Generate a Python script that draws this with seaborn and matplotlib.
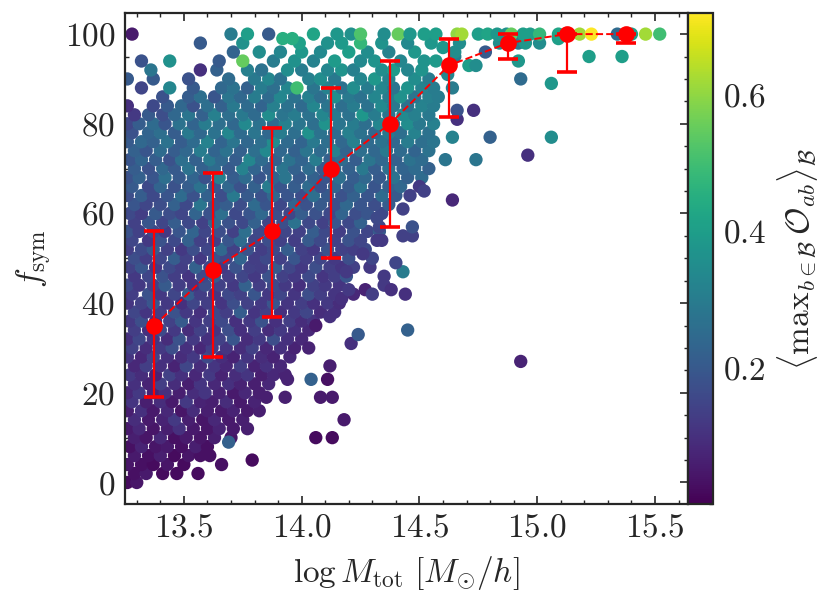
import numpy as np
import pandas as pd
import matplotlib
matplotlib.use("Agg")
import matplotlib.pyplot as plt
import seaborn as sns
from matplotlib.ticker import MultipleLocator

# dense cloud, one list of log-masses per f_sym level
cloud_fsym = [0, 2, 4, 6, 8, 10, 12, 14, 16, 18, 20, 22, 24, 26, 28, 30, 32, 34, 36, 38,
              40, 42, 44, 46, 48, 50, 52, 54, 56, 58, 60, 62, 64, 66, 68, 70, 72, 74, 76, 78,
              80, 82, 84, 86, 88, 90, 92, 94, 96, 98]
cloud_logm = [
    [13.26, 13.30],
    [13.29, 13.34, 13.41, 13.47],
    [13.26, 13.32, 13.37, 13.43, 13.50],
    [13.29, 13.35, 13.40, 13.46, 13.52, 13.57, 13.61],
    [13.27, 13.32, 13.38, 13.43, 13.49, 13.55, 13.60],
    [13.29, 13.34, 13.40, 13.46, 13.51, 13.57, 13.63, 13.70],
    [13.26, 13.31, 13.37, 13.43, 13.48, 13.54, 13.60, 13.65, 13.71, 13.77],
    [13.29, 13.35, 13.41, 13.46, 13.52, 13.58, 13.63, 13.69, 13.75],
    [13.26, 13.32, 13.37, 13.43, 13.49, 13.54, 13.60, 13.66, 13.71, 13.77, 13.82],
    [13.28, 13.34, 13.40, 13.45, 13.51, 13.57, 13.62, 13.68, 13.74, 13.80],
    [13.26, 13.31, 13.37, 13.42, 13.48, 13.54, 13.59, 13.65, 13.71, 13.76, 13.82],
    [13.29, 13.35, 13.40, 13.46, 13.52, 13.57, 13.63, 13.69, 13.74, 13.80, 13.86],
    [13.27, 13.32, 13.38, 13.44, 13.49, 13.55, 13.61, 13.66, 13.72, 13.77, 13.83, 13.88, 13.93],
    [13.29, 13.34, 13.40, 13.46, 13.51, 13.57, 13.63, 13.68, 13.74, 13.80, 13.85, 13.91],
    [13.26, 13.32, 13.37, 13.43, 13.49, 13.54, 13.60, 13.66, 13.71, 13.77, 13.83, 13.88, 13.95],
    [13.28, 13.34, 13.40, 13.45, 13.51, 13.57, 13.62, 13.68, 13.74, 13.79, 13.85, 13.91, 13.97],
    [13.26, 13.31, 13.37, 13.43, 13.48, 13.54, 13.60, 13.65, 13.71, 13.77, 13.82, 13.88, 13.94, 14.00],
    [13.29, 13.35, 13.40, 13.46, 13.52, 13.57, 13.63, 13.69, 13.74, 13.80, 13.86, 13.91, 13.97, 14.03],
    [13.27, 13.32, 13.38, 13.44, 13.49, 13.55, 13.61, 13.66, 13.72, 13.78, 13.83, 13.89, 13.95, 14.00, 14.05],
    [13.29, 13.34, 13.40, 13.46, 13.51, 13.57, 13.63, 13.68, 13.74, 13.80, 13.85, 13.91, 13.97, 14.02, 14.08, 14.14],
    [13.26, 13.32, 13.37, 13.43, 13.49, 13.54, 13.60, 13.66, 13.71, 13.77, 13.83, 13.88, 13.94, 14.00, 14.05, 14.11, 14.16],
    [13.28, 13.35, 13.40, 13.46, 13.52, 13.57, 13.63, 13.69, 13.74, 13.80, 13.86, 13.91, 13.97, 14.03, 14.08, 14.14],
    [13.26, 13.31, 13.37, 13.42, 13.48, 13.54, 13.59, 13.65, 13.71, 13.76, 13.82, 13.88, 13.93, 13.99, 14.05, 14.10, 14.16],
    [13.29, 13.35, 13.41, 13.46, 13.52, 13.58, 13.63, 13.69, 13.75, 13.80, 13.86, 13.92, 13.97, 14.03, 14.09, 14.14, 14.19],
    [13.27, 13.32, 13.38, 13.44, 13.49, 13.55, 13.61, 13.66, 13.72, 13.78, 13.83, 13.89, 13.95, 14.00, 14.06, 14.12, 14.17, 14.22],
    [13.29, 13.34, 13.40, 13.46, 13.51, 13.57, 13.63, 13.68, 13.74, 13.80, 13.85, 13.91, 13.97, 14.02, 14.08, 14.14, 14.20],
    [13.26, 13.32, 13.37, 13.43, 13.49, 13.54, 13.60, 13.66, 13.71, 13.77, 13.83, 13.88, 13.94, 14.00, 14.05, 14.11, 14.17, 14.22, 14.27],
    [13.28, 13.35, 13.40, 13.46, 13.52, 13.57, 13.63, 13.69, 13.74, 13.80, 13.86, 13.91, 13.97, 14.03, 14.08, 14.14, 14.20, 14.25],
    [13.26, 13.31, 13.37, 13.42, 13.48, 13.54, 13.59, 13.65, 13.71, 13.76, 13.82, 13.88, 13.93, 13.99, 14.05, 14.10, 14.16, 14.22, 14.28, 14.33],
    [13.29, 13.35, 13.41, 13.46, 13.52, 13.58, 13.63, 13.69, 13.75, 13.80, 13.86, 13.92, 13.97, 14.03, 14.09, 14.14, 14.20, 14.25],
    [13.27, 13.32, 13.38, 13.44, 13.49, 13.55, 13.61, 13.66, 13.72, 13.78, 13.83, 13.89, 13.95, 14.00, 14.06, 14.12, 14.17, 14.23, 14.28, 14.34],
    [13.29, 13.34, 13.40, 13.46, 13.51, 13.57, 13.63, 13.68, 13.74, 13.80, 13.85, 13.91, 13.97, 14.02, 14.08, 14.14, 14.19, 14.25, 14.31, 14.37],
    [13.26, 13.32, 13.37, 13.43, 13.49, 13.54, 13.60, 13.66, 13.71, 13.77, 13.83, 13.88, 13.94, 14.00, 14.05, 14.11, 14.17, 14.22, 14.28, 14.34, 14.40],
    [13.28, 13.35, 13.40, 13.46, 13.52, 13.57, 13.63, 13.69, 13.74, 13.80, 13.86, 13.91, 13.97, 14.03, 14.08, 14.14, 14.20, 14.25, 14.31, 14.37, 14.42],
    [13.26, 13.31, 13.37, 13.42, 13.48, 13.54, 13.59, 13.65, 13.71, 13.76, 13.82, 13.88, 13.93, 13.99, 14.05, 14.10, 14.16, 14.22, 14.27, 14.33, 14.39, 14.45, 14.51],
    [13.29, 13.35, 13.41, 13.46, 13.52, 13.58, 13.63, 13.69, 13.75, 13.80, 13.86, 13.92, 13.97, 14.03, 14.09, 14.14, 14.20, 14.26, 14.31, 14.37, 14.43, 14.48, 14.54],
    [13.27, 13.32, 13.38, 13.44, 13.49, 13.55, 13.61, 13.66, 13.72, 13.78, 13.83, 13.89, 13.95, 14.00, 14.06, 14.12, 14.17, 14.23, 14.29, 14.34, 14.40, 14.46, 14.51],
    [13.29, 13.34, 13.40, 13.46, 13.51, 13.57, 13.63, 13.68, 13.74, 13.80, 13.85, 13.91, 13.97, 14.02, 14.08, 14.14, 14.19, 14.25, 14.31, 14.36, 14.42, 14.48, 14.54],
    [13.26, 13.32, 13.37, 13.43, 13.49, 13.54, 13.60, 13.66, 13.71, 13.77, 13.83, 13.88, 13.94, 14.00, 14.05, 14.11, 14.17, 14.22, 14.28, 14.34, 14.39, 14.45, 14.51, 14.56],
    [13.28, 13.35, 13.40, 13.46, 13.52, 13.57, 13.63, 13.69, 13.74, 13.80, 13.86, 13.91, 13.97, 14.03, 14.08, 14.14, 14.20, 14.25, 14.31, 14.37, 14.42, 14.48, 14.54],
    [13.26, 13.31, 13.37, 13.42, 13.48, 13.54, 13.59, 13.65, 13.71, 13.76, 13.82, 13.88, 13.93, 13.99, 14.05, 14.10, 14.16, 14.22, 14.27, 14.33, 14.39, 14.45, 14.50, 14.56],
    [13.29, 13.35, 13.41, 13.46, 13.52, 13.58, 13.63, 13.69, 13.75, 13.80, 13.86, 13.92, 13.97, 14.03, 14.09, 14.14, 14.20, 14.26, 14.31, 14.37, 14.43, 14.48, 14.54],
    [13.26, 13.37, 13.43, 13.49, 13.54, 13.60, 13.66, 13.71, 13.77, 13.83, 13.88, 13.94, 14.00, 14.05, 14.11, 14.17, 14.22, 14.28, 14.34, 14.39, 14.45, 14.51, 14.56],
    [13.41, 13.52, 13.57, 13.63, 13.69, 13.74, 13.80, 13.86, 13.91, 13.97, 14.03, 14.08, 14.14, 14.20, 14.25, 14.31, 14.37, 14.42, 14.48, 14.54],
    [13.32, 13.44, 13.54, 13.66, 13.71, 13.77, 13.83, 13.88, 13.94, 13.98, 14.05, 14.11, 14.17, 14.22, 14.28, 14.34, 14.39, 14.45, 14.51, 14.56],
    [13.26, 13.37, 13.52, 13.69, 13.80, 13.86, 13.91, 14.03, 14.08, 14.14, 14.25, 14.31, 14.37, 14.48, 14.54],
    [13.36, 13.57, 13.64, 13.77, 13.83, 13.94, 14.00, 14.11, 14.17, 14.22, 14.34, 14.39, 14.45, 14.51],
    [13.32, 13.44, 13.65, 13.75, 13.88, 13.97, 14.05, 14.14, 14.25, 14.31, 14.42, 14.52, 14.57],
    [13.71, 13.82, 13.91, 14.00, 14.08, 14.20, 14.28, 14.37, 14.48],
    [13.57, 13.75, 13.99, 14.11, 14.17, 14.25, 14.34, 14.45, 14.55],
]
cloud_omax = [
    [0.02, 0.04],
    [0.03, 0.05, 0.02, 0.02],
    [0.04, 0.03, 0.02, 0.04, 0.02],
    [0.05, 0.03, 0.06, 0.02, 0.04, 0.03, 0.03],
    [0.03, 0.07, 0.04, 0.05, 0.03, 0.06, 0.03],
    [0.06, 0.04, 0.08, 0.03, 0.05, 0.04, 0.06, 0.04],
    [0.05, 0.08, 0.04, 0.06, 0.10, 0.05, 0.04, 0.07, 0.05, 0.06],
    [0.09, 0.05, 0.07, 0.12, 0.06, 0.04, 0.08, 0.05, 0.06],
    [0.06, 0.10, 0.05, 0.08, 0.04, 0.09, 0.06, 0.05, 0.07, 0.05, 0.06],
    [0.11, 0.06, 0.09, 0.05, 0.12, 0.07, 0.06, 0.09, 0.05, 0.07],
    [0.08, 0.12, 0.07, 0.10, 0.06, 0.09, 0.11, 0.07, 0.05, 0.08, 0.06],
    [0.10, 0.07, 0.13, 0.09, 0.06, 0.11, 0.08, 0.10, 0.07, 0.06, 0.08],
    [0.12, 0.09, 0.07, 0.14, 0.10, 0.08, 0.12, 0.07, 0.09, 0.11, 0.06, 0.08, 0.07],
    [0.08, 0.13, 0.10, 0.07, 0.15, 0.09, 0.11, 0.08, 0.13, 0.07, 0.10, 0.08],
    [0.11, 0.08, 0.14, 0.10, 0.09, 0.12, 0.16, 0.09, 0.07, 0.11, 0.09, 0.07, 0.08],
    [0.14, 0.09, 0.12, 0.17, 0.10, 0.08, 0.13, 0.11, 0.09, 0.14, 0.08, 0.10, 0.07],
    [0.10, 0.15, 0.11, 0.09, 0.18, 0.12, 0.10, 0.14, 0.19, 0.09, 0.12, 0.17, 0.10, 0.08],
    [0.13, 0.10, 0.16, 0.12, 0.09, 0.14, 0.11, 0.17, 0.10, 0.13, 0.09, 0.12, 0.10, 0.08],
    [0.12, 0.17, 0.10, 0.14, 0.20, 0.11, 0.13, 0.16, 0.10, 0.12, 0.18, 0.10, 0.13, 0.09, 0.11],
    [0.15, 0.11, 0.13, 0.18, 0.12, 0.10, 0.16, 0.13, 0.21, 0.11, 0.14, 0.10, 0.12, 0.15, 0.09, 0.10],
    [0.11, 0.14, 0.19, 0.12, 0.10, 0.15, 0.13, 0.11, 0.17, 0.14, 0.12, 0.19, 0.11, 0.13, 0.10, 0.12, 0.09],
    [0.13, 0.18, 0.12, 0.15, 0.21, 0.13, 0.11, 0.16, 0.14, 0.19, 0.12, 0.15, 0.11, 0.17, 0.13, 0.11],
    [0.16, 0.12, 0.14, 0.20, 0.13, 0.11, 0.17, 0.14, 0.12, 0.22, 0.13, 0.16, 0.12, 0.10, 0.14, 0.12, 0.11],
    [0.12, 0.15, 0.18, 0.13, 0.11, 0.16, 0.21, 0.13, 0.15, 0.12, 0.18, 0.14, 0.12, 0.16, 0.11, 0.13, 0.19],
    [0.14, 0.19, 0.12, 0.16, 0.13, 0.22, 0.15, 0.12, 0.18, 0.14, 0.13, 0.20, 0.15, 0.12, 0.17, 0.13, 0.11, 0.14],
    [0.17, 0.13, 0.15, 0.21, 0.14, 0.12, 0.18, 0.15, 0.23, 0.13, 0.16, 0.14, 0.19, 0.13, 0.15, 0.12, 0.17],
    [0.13, 0.16, 0.20, 0.14, 0.12, 0.17, 0.15, 0.24, 0.14, 0.18, 0.13, 0.16, 0.21, 0.14, 0.12, 0.18, 0.14, 0.13, 0.16],
    [0.15, 0.12, 0.18, 0.16, 0.22, 0.14, 0.13, 0.19, 0.25, 0.15, 0.17, 0.14, 0.13, 0.20, 0.16, 0.14, 0.18, 0.15],
    [0.18, 0.14, 0.16, 0.12, 0.19, 0.23, 0.15, 0.17, 0.14, 0.26, 0.16, 0.19, 0.15, 0.14, 0.21, 0.16, 0.13, 0.18, 0.15, 0.20],
    [0.14, 0.19, 0.15, 0.21, 0.16, 0.14, 0.24, 0.18, 0.16, 0.22, 0.15, 0.17, 0.27, 0.16, 0.14, 0.19, 0.16, 0.22],
    [0.16, 0.13, 0.20, 0.17, 0.15, 0.23, 0.18, 0.26, 0.16, 0.19, 0.24, 0.17, 0.15, 0.21, 0.18, 0.16, 0.23, 0.17, 0.19, 0.16],
    [0.19, 0.15, 0.17, 0.22, 0.16, 0.28, 0.18, 0.21, 0.17, 0.25, 0.19, 0.16, 0.23, 0.18, 0.20, 0.17, 0.24, 0.19, 0.17, 0.21],
    [0.17, 0.21, 0.16, 0.19, 0.25, 0.18, 0.22, 0.17, 0.29, 0.20, 0.18, 0.24, 0.19, 0.17, 0.26, 0.20, 0.18, 0.22, 0.19, 0.25, 0.20],
    [0.20, 0.16, 0.23, 0.18, 0.21, 0.27, 0.19, 0.24, 0.18, 0.22, 0.30, 0.19, 0.21, 0.25, 0.18, 0.23, 0.20, 0.27, 0.19, 0.22, 0.24],
    [0.18, 0.22, 0.19, 0.26, 0.20, 0.23, 0.18, 0.31, 0.21, 0.25, 0.19, 0.23, 0.28, 0.20, 0.22, 0.19, 0.26, 0.21, 0.24, 0.20, 0.27, 0.22, 0.25],
    [0.21, 0.18, 0.24, 0.20, 0.27, 0.22, 0.25, 0.20, 0.32, 0.23, 0.21, 0.28, 0.22, 0.25, 0.20, 0.24, 0.22, 0.29, 0.21, 0.26, 0.23, 0.25, 0.22],
    [0.19, 0.23, 0.21, 0.18, 0.26, 0.22, 0.29, 0.24, 0.21, 0.33, 0.25, 0.22, 0.27, 0.23, 0.30, 0.22, 0.25, 0.21, 0.28, 0.24, 0.22, 0.27, 0.25],
    [0.22, 0.19, 0.25, 0.21, 0.24, 0.30, 0.23, 0.27, 0.22, 0.26, 0.34, 0.24, 0.22, 0.28, 0.25, 0.31, 0.23, 0.26, 0.24, 0.29, 0.25, 0.23, 0.27],
    [0.20, 0.24, 0.22, 0.27, 0.21, 0.25, 0.32, 0.23, 0.28, 0.24, 0.26, 0.35, 0.25, 0.23, 0.29, 0.26, 0.24, 0.31, 0.25, 0.27, 0.24, 0.30, 0.26, 0.28],
    [0.18, 0.23, 0.26, 0.21, 0.29, 0.24, 0.27, 0.33, 0.25, 0.28, 0.24, 0.30, 0.26, 0.36, 0.27, 0.25, 0.31, 0.27, 0.24, 0.29, 0.26, 0.32, 0.27],
    [0.15, 0.21, 0.25, 0.19, 0.27, 0.23, 0.30, 0.26, 0.24, 0.34, 0.27, 0.25, 0.31, 0.28, 0.26, 0.37, 0.28, 0.30, 0.26, 0.33, 0.28, 0.35, 0.29, 0.31],
    [0.12, 0.20, 0.17, 0.24, 0.28, 0.22, 0.31, 0.26, 0.29, 0.25, 0.35, 0.28, 0.30, 0.27, 0.33, 0.29, 0.27, 0.38, 0.30, 0.28, 0.34, 0.31, 0.29],
    [0.10, 0.16, 0.20, 0.24, 0.18, 0.26, 0.22, 0.29, 0.25, 0.23, 0.31, 0.27, 0.25, 0.33, 0.28, 0.26, 0.30, 0.27, 0.34, 0.29, 0.27, 0.32, 0.30],
    [0.18, 0.21, 0.26, 0.19, 0.28, 0.24, 0.30, 0.25, 0.33, 0.27, 0.31, 0.26, 0.35, 0.29, 0.27, 0.33, 0.30, 0.36, 0.28, 0.31],
    [0.15, 0.33, 0.20, 0.24, 0.27, 0.22, 0.30, 0.26, 0.33, 0.50, 0.28, 0.32, 0.27, 0.35, 0.30, 0.33, 0.28, 0.37, 0.32, 0.30],
    [0.20, 0.20, 0.18, 0.25, 0.29, 0.33, 0.27, 0.31, 0.35, 0.29, 0.33, 0.38, 0.32, 0.35, 0.30],
    [0.28, 0.10, 0.22, 0.31, 0.27, 0.35, 0.30, 0.33, 0.37, 0.31, 0.35, 0.39, 0.33, 0.37],
    [0.18, 0.36, 0.20, 0.55, 0.30, 0.36, 0.32, 0.39, 0.34, 0.37, 0.33, 0.37, 0.39],
    [0.23, 0.35, 0.33, 0.38, 0.34, 0.40, 0.35, 0.32, 0.38],
    [0.20, 0.36, 0.41, 0.36, 0.39, 0.48, 0.37, 0.34, 0.38],
]

# scattered haloes outside the dense cloud
out_logm = [13.56, 13.66, 13.79, 13.69, 14.06, 14.13, 14.18, 13.85, 13.93, 14.08,
            14.13, 13.94, 14.04, 14.11, 14.12, 14.03, 14.21, 14.24, 14.06, 14.45,
            14.12, 14.17, 14.22, 14.20, 14.27, 14.30, 14.35, 14.38, 14.44, 14.35,
            14.19, 14.29, 14.43, 14.40, 14.30, 14.26, 14.32, 14.34, 14.43, 14.47,
            14.47, 14.33, 14.32, 14.43, 14.46, 14.64, 14.50, 14.52, 14.93, 14.61,
            14.74, 14.96, 14.64, 14.80, 15.06, 14.66, 14.66, 14.73, 14.64, 14.58,
            14.93, 15.06, 14.62, 14.71, 14.74, 14.92, 14.65, 15.22, 15.36, 14.65,
            14.78, 14.60, 14.67, 14.84, 14.87, 14.92, 14.95, 15.01, 15.09, 13.92,
            13.96]
out_fsym = [2, 4, 5, 9, 10, 10, 14, 19, 19, 19,
            19, 23, 23, 23, 26, 30, 31, 33, 35, 34,
            37, 41, 42, 43, 43, 42, 44, 43, 42, 46,
            47, 48, 47, 49, 50, 51, 54, 54, 55, 55,
            57, 57, 59, 61, 64, 63, 66, 65, 27, 72,
            72, 73, 77, 77, 77, 81, 83, 83, 88, 86,
            90, 89, 91, 93, 93, 94, 95, 95, 95, 96,
            96, 97, 98, 98, 98, 98, 98, 98, 99, 99,
            99]
out_omax = [0.02, 0.03, 0.02, 0.22, 0.02, 0.02, 0.05, 0.06, 0.06, 0.05,
            0.05, 0.07, 0.22, 0.03, 0.06, 0.07, 0.10, 0.20, 0.05, 0.22,
            0.10, 0.10, 0.08, 0.12, 0.07, 0.13, 0.12, 0.10, 0.10, 0.12,
            0.12, 0.12, 0.30, 0.15, 0.15, 0.12, 0.12, 0.12, 0.14, 0.14,
            0.18, 0.15, 0.16, 0.14, 0.14, 0.08, 0.12, 0.14, 0.07, 0.28,
            0.28, 0.10, 0.32, 0.22, 0.35, 0.10, 0.18, 0.10, 0.30, 0.30,
            0.25, 0.38, 0.33, 0.40, 0.35, 0.38, 0.30, 0.40, 0.40, 0.35,
            0.20, 0.38, 0.35, 0.35, 0.35, 0.30, 0.38, 0.35, 0.40, 0.45,
            0.45]

# haloes with f_sym = 100
top_logm = [13.28, 13.70, 13.77, 13.86, 14.05, 14.15, 14.21, 14.25, 14.35, 14.41,
            14.46, 14.52, 14.57, 14.66, 14.68, 14.75, 14.79, 14.83, 14.87, 14.89,
            14.94, 14.97, 15.01, 15.09, 15.12, 15.18, 15.23, 15.34, 15.40, 15.46,
            15.52]
top_omax = [0.05, 0.30, 0.40, 0.20, 0.42, 0.38, 0.36, 0.52, 0.35, 0.55,
            0.38, 0.40, 0.40, 0.60, 0.62, 0.40, 0.42, 0.38, 0.36, 0.55,
            0.40, 0.40, 0.48, 0.42, 0.45, 0.62, 0.72, 0.25, 0.40, 0.62,
            0.50]

# binned medians with percentile range
bin_logm = [13.375, 13.625, 13.875, 14.125, 14.375, 14.625, 14.875, 15.125, 15.375]
bin_median = [35, 47.5, 56, 70, 80, 93, 98, 100, 100]
bin_low = [19, 28, 37, 50, 57, 81.5, 94.5, 91.5, 98]
bin_high = [56, 69, 79, 88, 94, 99, 100, 100, 100]

# build one table for seaborn
xs, ys, cs = [], [], []
for f, lm, om in zip(cloud_fsym, cloud_logm, cloud_omax):
    xs += lm
    ys += [f] * len(lm)
    cs += om
xs += out_logm
ys += out_fsym
cs += out_omax
xs += top_logm
ys += [100] * len(top_logm)
cs += top_omax
halos = pd.DataFrame({"logm": xs, "fsym": ys, "omax": cs})

sns.set_style("ticks")
plt.rcParams.update({
    "font.family": "serif",
    "font.serif": ["cmr10"],
    "mathtext.fontset": "cm",
    "axes.formatter.use_mathtext": True,
    "font.size": 12,
    "axes.linewidth": 0.8,
    "xtick.direction": "in",
    "ytick.direction": "in",
    "xtick.top": True,
    "ytick.right": True,
    "xtick.major.size": 3,
    "ytick.major.size": 3,
    "xtick.minor.size": 1.6,
    "ytick.minor.size": 1.6,
    "xtick.major.width": 0.6,
    "ytick.major.width": 0.6,
    "xtick.minor.width": 0.5,
    "ytick.minor.width": 0.5,
    "xtick.labelsize": 12,
    "ytick.labelsize": 12,
})

vmin, vmax = 0.0, 0.72

fig = plt.figure(figsize=(8.31 / 2, 6.09 / 2), dpi=200)
ax = fig.add_axes([0.1504, 0.1724, 0.6775, 0.8062])
cax = fig.add_axes([0.8279, 0.1724, 0.0301, 0.8062])

sns.scatterplot(data=halos, x="logm", y="fsym", hue="omax", palette="viridis",
                hue_norm=(vmin, vmax), s=23, linewidth=0, legend=False, ax=ax, zorder=2)

med = np.array(bin_median)
ax.errorbar(bin_logm, bin_median,
            yerr=[med - np.array(bin_low), np.array(bin_high) - med],
            fmt="o", ls="--", color="red", ms=5, lw=0.7, elinewidth=0.8,
            capsize=3.6, capthick=1.3, zorder=3)

ax.set_xlim(13.25, 15.64)
ax.set_ylim(-4.8, 104.7)
ax.xaxis.set_major_locator(MultipleLocator(0.5))
ax.xaxis.set_minor_locator(MultipleLocator(0.1))
ax.yaxis.set_major_locator(MultipleLocator(20))
ax.yaxis.set_minor_locator(MultipleLocator(5))
ax.set_xlabel(r"$\log M_{\mathrm{tot}}\ [M_{\odot}/h]$", fontsize=12)
ax.set_ylabel(r"$f_{\mathrm{sym}}$", fontsize=12)

sm = plt.cm.ScalarMappable(cmap="viridis", norm=plt.Normalize(vmin, vmax))
cb = fig.colorbar(sm, cax=cax)
cb.outline.set_linewidth(0.8)
cb.set_ticks([0.2, 0.4, 0.6])
cb.ax.yaxis.set_minor_locator(MultipleLocator(0.05))
cb.ax.tick_params(which="both", direction="in", right=True, left=False)
cb.set_label(r"$\langle \mathrm{max}_{b\in\mathcal{B}}\, \mathcal{O}_{ab} \rangle_{\mathcal{B}}$",
             fontsize=12, labelpad=3)

fig.savefig("out.png", dpi=200)
